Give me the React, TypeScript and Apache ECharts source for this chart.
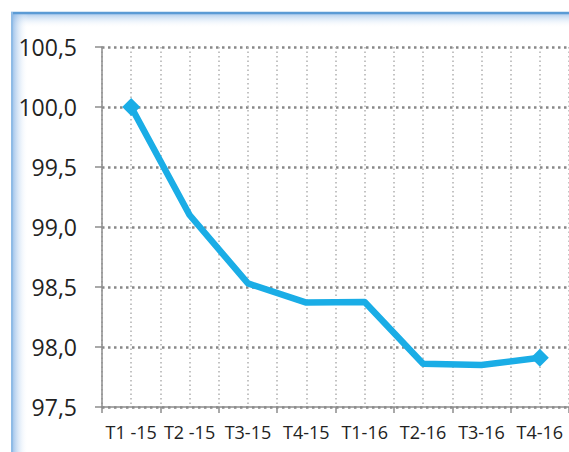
import React, { useEffect, useRef } from "react";
import * as echarts from "echarts";

const categories = ["T1 -15", "T2 -15", "T3-15", "T4-15", "T1-16", "T2-16", "T3-16", "T4-16"];
const values = [100.0, 99.1, 98.53, 98.37, 98.375, 97.86, 97.85, 97.91];
const yMin = 97.5;
const yMax = 100.5;
const yStep = 0.5;

export default function App() {
  const ref = useRef<HTMLDivElement>(null);
  useEffect(() => {
    document.body.style.margin = "0";
    const chart = echarts.init(ref.current!, null, { renderer: "svg" });
    const last = values.length - 1;
    chart.setOption({
      animation: false,
      backgroundColor: "#ffffff",
      graphic: [
        {
          type: "rect",
          z: -10,
          shape: { x: 12, y: 12, width: 600, height: 16 },
          style: {
            fill: new echarts.graphic.LinearGradient(0, 0, 0, 1, [
              { offset: 0, color: "rgba(120,170,225,0.75)" },
              { offset: 1, color: "rgba(255,255,255,0)" },
            ]),
          },
        },
        {
          type: "rect",
          z: -10,
          shape: { x: 12, y: 12, width: 16, height: 460 },
          style: {
            fill: new echarts.graphic.LinearGradient(0, 0, 1, 0, [
              { offset: 0, color: "rgba(120,170,225,0.75)" },
              { offset: 1, color: "rgba(255,255,255,0)" },
            ]),
          },
        },
        {
          type: "line",
          z: -9,
          shape: { x1: 11, y1: 13, x2: 600, y2: 13 },
          style: { stroke: "#5B9BD5", lineWidth: 2.5 },
        },
        {
          type: "line",
          z: -9,
          shape: { x1: 12, y1: 12, x2: 12, y2: 460 },
          style: { stroke: "#8EBBE6", lineWidth: 2 },
        },
      ],
      grid: { left: 102, top: 47, width: 472, height: 360, containLabel: false },
      xAxis: [
        {
          type: "category",
          data: categories,
          boundaryGap: true,
          axisLine: { lineStyle: { color: "#8c8c8c", width: 1.5 } },
          axisTick: { show: true, length: 6, lineStyle: { color: "#8c8c8c", width: 1.5 } },
          axisLabel: {
            color: "#222",
            fontSize: 18,
            fontFamily: "Open Sans",
            margin: 16,
            interval: 0,
          },
          splitLine: { show: false },
        },
        {
          type: "value",
          min: 0,
          max: 16,
          interval: 1,
          show: true,
          position: "bottom",
          axisLine: { show: false },
          axisTick: { show: false },
          axisLabel: { show: false },
          splitLine: {
            show: true,
            lineStyle: { color: "#b0b0b0", width: 1.5, type: [1.5, 3] },
          },
        },
      ],
      yAxis: {
        type: "value",
        min: yMin,
        max: yMax,
        interval: yStep,
        axisLine: { show: true, lineStyle: { color: "#8c8c8c", width: 1.5 } },
        axisTick: { show: true, length: 7, lineStyle: { color: "#8c8c8c", width: 1.5 } },
        axisLabel: {
          color: "#222",
          fontSize: 23,
          fontFamily: "Open Sans",
          margin: 25,
          formatter: (v: number) => v.toFixed(1).replace(".", ","),
        },
        splitLine: {
          show: true,
          lineStyle: { color: "#888888", width: 2.5, type: [2.5, 3.5] },
        },
      },
      series: [
        {
          type: "line",
          xAxisIndex: 0,
          data: values.map((v, i) => ({
            value: v,
            symbol: i === 0 || i === last ? "diamond" : "none",
            symbolSize: i === 0 || i === last ? 18 : 0,
          })),
          showSymbol: true,
          lineStyle: { color: "#1AADE6", width: 6.5, join: "round" },
          itemStyle: { color: "#1AADE6" },
          z: 5,
        },
      ],
    });
    return () => chart.dispose();
  }, []);
  return <div ref={ref} style={{ width: 569, height: 452 }} />;
}
